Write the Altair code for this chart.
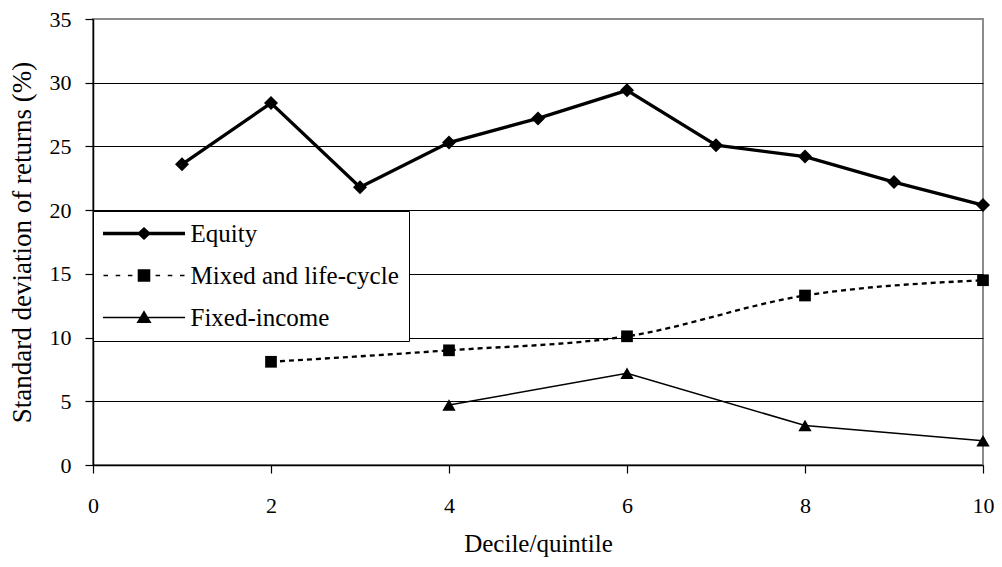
import altair as alt
import pandas as pd

series_names = ["Equity", "Mixed and life-cycle", "Fixed-income"]
equity_x = [1, 2, 3, 4, 5, 6, 7, 8, 9, 10]
equity_y = [23.6, 28.4, 21.8, 25.3, 27.2, 29.4, 25.1, 24.2, 22.2, 20.4]
mixed_x = [2, 4, 6, 8, 10]
mixed_y = [8.1, 9.0, 10.1, 13.3, 14.5]
fixed_x = [4, 6, 8, 10]
fixed_y = [4.7, 7.2, 3.1, 1.9]
x_ticks = [0, 2, 4, 6, 8, 10]
y_ticks = [0, 5, 10, 15, 20, 25, 30, 35]

rows = []
for name, xs, ys in zip(series_names, [equity_x, mixed_x, fixed_x], [equity_y, mixed_y, fixed_y]):
    for xv, yv in zip(xs, ys):
        rows.append({"series": name, "x": xv, "y": yv})
df = pd.DataFrame(rows)

FONT = "Liberation Serif"

x_enc = alt.X(
    "x:Q",
    scale=alt.Scale(domain=[0, 10], nice=False, zero=False),
    axis=alt.Axis(
        values=x_ticks, title="Decile/quintile", grid=False, format="d", labelFlush=False,
        domainColor="black", domainWidth=1.5, tickColor="black", tickWidth=1.2, tickSize=8,
        labelPadding=22, labelFont=FONT, labelFontSize=22, labelColor="black",
        titleFont=FONT, titleFontSize=25, titleFontWeight="normal", titleColor="black",
        titlePadding=15,
    ),
)
y_enc = alt.Y(
    "y:Q",
    scale=alt.Scale(domain=[0, 35], nice=False),
    axis=alt.Axis(
        values=y_ticks, title="Standard deviation of returns (%)", format="d", labelFlush=False,
        grid=True, gridColor="black", gridWidth=1,
        gridOpacity={"condition": {"test": "datum.value === 35 || datum.value === 0", "value": 0}, "value": 1},
        domainColor="black", domainWidth=1.5, tickColor="black", tickWidth=1.2, tickSize=8,
        labelPadding=14, labelFont=FONT, labelFontSize=22, labelColor="black",
        titleFont=FONT, titleFontSize=27, titleFontWeight="normal", titleColor="black",
        titlePadding=13,
    ),
)

base = alt.Chart(df).encode(x=x_enc, y=y_enc)

eq_line = base.transform_filter(alt.datum.series == "Equity").mark_line(color="black", strokeWidth=3.3)
mixed_line = base.transform_filter(alt.datum.series == "Mixed and life-cycle").mark_line(
    color="black", strokeWidth=2.3, strokeDash=[5, 4], interpolate="monotone")
fixed_line = base.transform_filter(alt.datum.series == "Fixed-income").mark_line(color="black", strokeWidth=1.5)

eq_pts = base.transform_filter(alt.datum.series == "Equity").mark_point(
    shape="diamond", size=196, filled=True, color="black", opacity=1)
mixed_pts = base.transform_filter(alt.datum.series == "Mixed and life-cycle").mark_point(
    shape="square", size=137, filled=True, color="black", opacity=1)
fixed_pts = base.transform_filter(alt.datum.series == "Fixed-income").mark_point(
    shape="triangle-up", size=177, filled=True, color="black", opacity=1)

# legend glyphs: line + marker drawn as filled paths (1 unit = 10 px)
legend_paths = [
    "M-4.1,-0.17H4.1V0.17H-4.1Z M0,-0.65L0.7,0L0,0.65L-0.7,0Z",
    "M-4.05,-0.08H-3.6V0.08H-4.05Z M-2.83,-0.08H-2.38V0.08H-2.83Z M-1.61,-0.08H-1.16V0.08H-1.61Z "
    "M1.16,-0.08H1.61V0.08H1.16Z M2.38,-0.08H2.83V0.08H2.38Z M3.6,-0.08H4.05V0.08H3.6Z "
    "M-0.63,-0.62H0.63V0.62H-0.63Z",
    "M-4.1,-0.075H4.1V0.075H-4.1Z M0,-0.73L0.75,0.55H-0.75Z",
]
legend_layer = base.mark_point(filled=True, fill="black", strokeWidth=0, opacity=0).encode(
    shape=alt.Shape(
        "series:N",
        scale=alt.Scale(domain=series_names, range=legend_paths),
        legend=alt.Legend(
            title=None, orient="none", legendX=0, legendY=192, padding=10,
            fillColor="white", strokeColor="black",
            symbolSize=400, symbolOpacity=1, symbolStrokeWidth=0,
            symbolFillColor="black", symbolOffset=28.5,
            labelFont=FONT, labelFontSize=25, labelColor="black", labelOffset=34,
            rowPadding=16, labelLimit=400,
        ),
    ),
)

chart = alt.layer(
    eq_line, mixed_line, fixed_line, eq_pts, mixed_pts, fixed_pts, legend_layer
).properties(
    width=890, height=446,
    autosize=alt.AutoSizeParams(type="none"),
    padding={"left": 85, "top": 11, "right": 11, "bottom": 94},
    background="white",
).configure_view(stroke="#8c8c8c", strokeWidth=2)

chart.save("out.html", embed_options={"renderer": "svg", "actions": False})
